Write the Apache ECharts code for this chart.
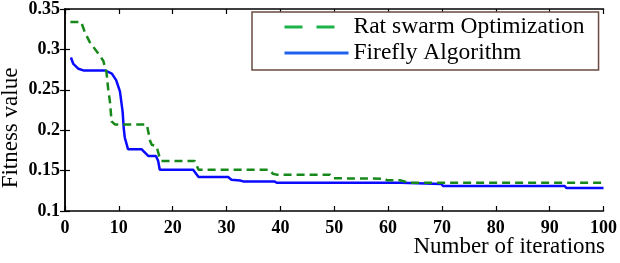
<!DOCTYPE html>
<html>
<head>
<meta charset="utf-8">
<script src="https://cdn.jsdelivr.net/npm/echarts@6/dist/echarts.min.js"></script>
<style>
html,body{margin:0;padding:0;background:#fff;}
#main{width:620px;height:263px;}
</style>
</head>
<body>
<div id="main"></div>
<script>
// Rat swarm Optimization (green dashed)
var rsoIter = [1, 3, 3.7, 4.6, 6.5, 7.1, 7.7, 8.0, 8.35, 8.65, 9.3, 15.2, 15.8, 16.1, 17, 17.5, 17.9, 24.1, 24.8, 38, 38.6, 39.3, 49.2, 49.8, 59.4, 59.8, 62.2, 64, 100];
var rsoFit = [0.334, 0.334, 0.321, 0.309, 0.292, 0.286, 0.272, 0.252, 0.235, 0.211, 0.207, 0.207, 0.187, 0.182, 0.180, 0.168, 0.162, 0.162, 0.151, 0.151, 0.146, 0.145, 0.145, 0.1405, 0.140, 0.138, 0.138, 0.135, 0.135];
// Firefly Algorithm (blue solid)
var faIter = [1.1, 1.55, 2.5, 3.4, 7.4, 8.7, 9.5, 10.2, 10.7, 10.9, 11.1, 11.7, 14.2, 15.5, 16.9, 17.3, 17.6, 23.8, 24.8, 30.3, 30.9, 32.5, 33.1, 38.9, 39.3, 62.3, 62.6, 69.9, 70.2, 92.8, 93.1, 100];
var faFit = [0.290, 0.282, 0.276, 0.274, 0.274, 0.270, 0.262, 0.248, 0.223, 0.203, 0.191, 0.1765, 0.1765, 0.168, 0.168, 0.162, 0.151, 0.151, 0.142, 0.142, 0.1387, 0.1378, 0.1366, 0.1366, 0.135, 0.135, 0.1335, 0.1335, 0.131, 0.131, 0.1285, 0.1285];

var seriesNames = ['Rat swarm Optimization', 'Firefly Algorithm'];

function pairs(xs, ys){
	var out = [];
	for(var i = 0; i < xs.length; i++){
		out.push([xs[i], ys[i]]);
	}
	return out;
}

var serif = '"Liberation Serif", "DejaVu Serif", serif';
var tickLbl = {fontFamily: serif, fontSize: 18, fontWeight: 'bold', color: '#000'};
var axLine = {lineStyle: {color: '#000', width: 1.5}};
var inTick = {inside: true, length: 5, lineStyle: {color: '#000', width: 1.2}};

var myChart = echarts.init(document.getElementById('main'));
var option = {
	animation: false,
	backgroundColor: '#fff',
	grid: {left: 65, right: 16, top: 6, bottom: 52},
	xAxis: [{
		type: 'value', min: 0, max: 100, interval: 10,
		axisLine: axLine, axisTick: inTick, splitLine: {show: false},
		axisLabel: Object.assign({margin: 8}, tickLbl)
	}, {
		type: 'value', position: 'top', min: 0, max: 100, interval: 10,
		axisLine: axLine, axisTick: inTick, splitLine: {show: false},
		axisLabel: {show: false}
	}],
	yAxis: [{
		type: 'value', min: 0.1, max: 0.35, interval: 0.05,
		axisLine: axLine, axisTick: inTick, splitLine: {show: false},
		axisLabel: Object.assign({margin: 5}, tickLbl)
	}, {
		type: 'value', position: 'right', min: 0.1, max: 0.35, interval: 0.05,
		axisLine: axLine, axisTick: inTick, splitLine: {show: false},
		axisLabel: {show: false}
	}],
	legend: {
		orient: 'vertical',
		left: 252, top: 12,
		padding: [2, 14, 4, 31],
		itemGap: 0,
		itemWidth: 64, itemHeight: 14,
		borderColor: '#6b4b43', borderWidth: 1.5,
		backgroundColor: '#fff',
		itemStyle: {opacity: 0},
		textStyle: {fontFamily: serif, fontSize: 23.5, color: '#000', lineHeight: 26},
		data: [
			{name: seriesNames[0], lineStyle: {color: '#1db34a', width: 3, type: [18, 14]}},
			{name: seriesNames[1], lineStyle: {color: '#2060ee', width: 3}}
		]
	},
	graphic: [
		{type: 'text', x: 11, y: 128, rotation: Math.PI / 2,
			style: {text: 'Fitness value', font: '23px ' + serif, fill: '#000', align: 'center', verticalAlign: 'middle'}},
		{type: 'text', x: 605, y: 247,
			style: {text: 'Number of iterations', font: '23px ' + serif, fill: '#000', align: 'right', verticalAlign: 'middle'}}
	],
	series: [{
		name: seriesNames[0],
		type: 'line',
		symbol: 'none',
		data: pairs(rsoIter, rsoFit),
		lineStyle: {color: '#17881a', width: 2.5, type: [8, 5]},
		itemStyle: {color: '#17881a'},
		z: 3
	}, {
		name: seriesNames[1],
		type: 'line',
		symbol: 'none',
		data: pairs(faIter, faFit),
		lineStyle: {color: '#0a0aff', width: 2.5},
		itemStyle: {color: '#0a0aff'},
		z: 2
	}]
};
myChart.setOption(option);
</script>
</body>
</html>
